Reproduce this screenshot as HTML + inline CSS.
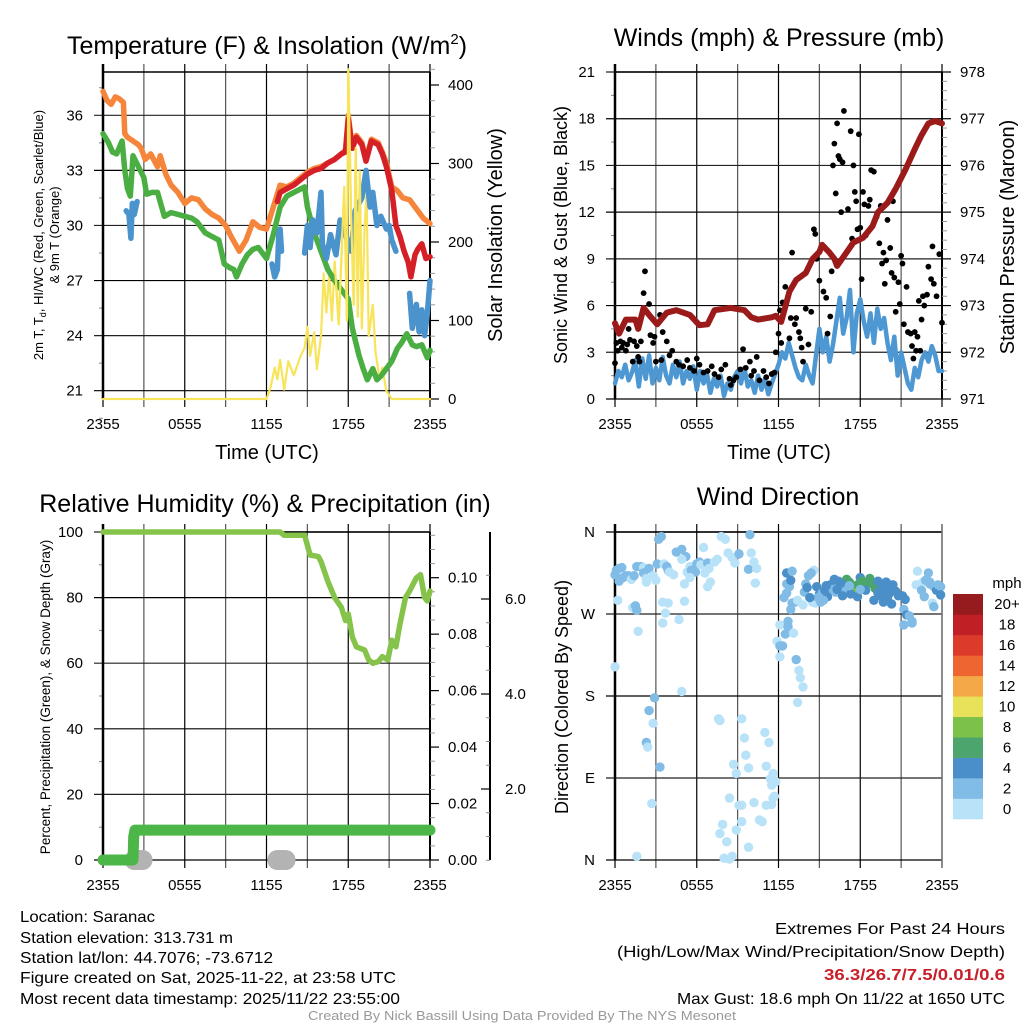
<!DOCTYPE html>
<html><head><meta charset="utf-8"><style>
html,body{margin:0;padding:0;background:#fff;}
svg{display:block;font-family:"Liberation Sans",Arial,sans-serif;}
</style></head><body>
<svg id="chart" width="1024" height="1024" viewBox="0 0 1024 1024" xmlns="http://www.w3.org/2000/svg">
<rect width="1024" height="1024" fill="#fff"/>
<g id="layer"></g>
<!-- titles -->
<text x="267" y="54" font-size="25" text-anchor="middle">Temperature (F) &amp; Insolation (W/m<tspan font-size="15" dy="-10">2</tspan><tspan dy="10">)</tspan></text>
<text x="779" y="46" font-size="25" text-anchor="middle">Winds (mph) &amp; Pressure (mb)</text>
<text x="265" y="512" font-size="25" text-anchor="middle">Relative Humidity (%) &amp; Precipitation (in)</text>
<text x="778" y="505" font-size="25" text-anchor="middle">Wind Direction</text>
<!-- axis titles -->
<text x="267" y="459" font-size="20" text-anchor="middle">Time (UTC)</text>
<text x="779" y="459" font-size="20" text-anchor="middle">Time (UTC)</text>
<text transform="translate(43,235) rotate(-90)" font-size="13" text-anchor="middle">2m T, T<tspan font-size="9" dy="3">d</tspan><tspan dy="-3">, HI/WC (Red, Green, Scarlet/Blue)</tspan></text>
<text transform="translate(59,235) rotate(-90)" font-size="13" text-anchor="middle">&amp; 9m T (Orange)</text>
<text transform="translate(502,235) rotate(-90)" font-size="20" text-anchor="middle">Solar Insolation (Yellow)</text>
<text transform="translate(567,235) rotate(-90)" font-size="18" text-anchor="middle">Sonic Wind &amp; Gust (Blue, Black)</text>
<text transform="translate(1014,237) rotate(-90)" font-size="20" text-anchor="middle">Station Pressure (Maroon)</text>
<text transform="translate(50,697) rotate(-90)" font-size="13.5" text-anchor="middle">Percent, Precipitation (Green), &amp; Snow Depth (Gray)</text>
<text transform="translate(568,697) rotate(-90)" font-size="18" text-anchor="middle">Direction (Colored By Speed)</text>
<!-- footer -->
<g font-size="16">
<text x="20" y="922" textLength="135" lengthAdjust="spacingAndGlyphs">Location: Saranac</text>
<text x="20" y="943" textLength="213" lengthAdjust="spacingAndGlyphs">Station elevation: 313.731 m</text>
<text x="20" y="963" textLength="253" lengthAdjust="spacingAndGlyphs">Station lat/lon: 44.7076; -73.6712</text>
<text x="20" y="983" textLength="376" lengthAdjust="spacingAndGlyphs">Figure created on Sat, 2025-11-22, at 23:58 UTC</text>
<text x="20" y="1004" textLength="380" lengthAdjust="spacingAndGlyphs">Most recent data timestamp: 2025/11/22 23:55:00</text>
<text x="1005" y="934" text-anchor="end" textLength="230" lengthAdjust="spacingAndGlyphs">Extremes For Past 24 Hours</text>
<text x="1005" y="957" text-anchor="end" textLength="388" lengthAdjust="spacingAndGlyphs">(High/Low/Max Wind/Precipitation/Snow Depth)</text>
<text x="1005" y="980" text-anchor="end" font-weight="bold" fill="#c8202a" textLength="181" lengthAdjust="spacingAndGlyphs">36.3/26.7/7.5/0.01/0.6</text>
<text x="1005" y="1004" text-anchor="end" textLength="328" lengthAdjust="spacingAndGlyphs">Max Gust: 18.6 mph On 11/22 at 1650 UTC</text>
<text x="522" y="1020" text-anchor="middle" font-size="12.5" fill="#999" textLength="428" lengthAdjust="spacingAndGlyphs">Created By Nick Bassill Using Data Provided By The NYS Mesonet</text>
</g>
</svg>
<script>
// ---------- DATA ----------
const timeTickLabels = ["2355","0555","1155","1755","2355"];
const tempTicks = [21,24,27,30,33,36];
const solarTicks = [0,100,200,300,400];
const windTicks = [0,3,6,9,12,15,18,21];
const pressTicks = [971,972,973,974,975,976,977,978];
const rhTicks = [0,20,40,60,80,100];
const precipTicks = ["0.00","0.02","0.04","0.06","0.08","0.10"];
const snowTicks = ["2.0","4.0","6.0"];
const dirTicks = ["N","E","S","W","N"];
const speedLabels = ["0","2","4","6","8","10","12","14","16","18","20+"];

const orangeT = [0,0.3,0.6,0.9,1.2,1.5,1.6,1.8,2.2,2.6,2.8,3.1,3.5,4,4.2,4.6,5,5.5,6,6.5,7,7.5,8,8.5,9,9.4,9.7,10,10.5,11,11.5,12,12.5,13,13.5,14,14.5,15,15.5,16,16.5,17,17.5,17.8,18,18.3,18.6,19,19.3,19.7,20.2,20.5,20.8,21.2,21.6,22,22.5,23,23.5,24];
const orangeV = [37.3,36.8,36.6,37.0,36.9,36.7,35.0,34.8,34.6,34.4,34.2,33.6,33.9,33.2,33.8,32.8,32.2,31.8,31.2,31.5,31.4,30.9,30.6,30.4,30.0,29.4,29.0,28.6,29.2,30.2,29.9,29.8,31.0,32.2,32.1,32.3,32.6,32.9,33.1,33.2,33.4,33.6,33.9,34.1,36.0,34.2,34.9,34.5,33.6,34.7,34.5,34.0,33.4,32.1,31.9,31.5,31.4,30.9,30.4,30.1];
const redT = [12.8,13,13.5,14,14.5,15,15.5,16,16.5,17,17.5,17.8,18,18.3,18.6,19,19.3,19.7,20.2,20.5,20.8,21.2,21.5,21.8,22.1,22.4,22.6,22.9,23.1,23.4,23.7,24];
const redV = [31.3,31.8,32.0,32.2,32.5,32.8,33.0,33.1,33.4,33.6,33.9,34.0,35.8,34.2,34.8,34.4,33.5,34.6,34.4,33.9,33.2,31.9,30.0,29.4,28.6,28.0,27.2,28.4,28.7,29.0,28.2,28.3];
const greenT = [0,0.4,0.7,1.0,1.4,1.6,1.8,2.0,2.2,2.6,3.0,3.2,3.6,4.0,4.5,5.0,5.5,6.0,6.5,6.9,7.5,8.0,8.5,8.9,9.3,9.6,9.8,10.2,10.6,11.0,11.4,11.7,12.0,12.5,13.0,13.5,14.0,14.8,15.0,15.5,16.0,16.5,17.0,17.5,18.0,18.3,18.8,19.1,19.4,19.8,20.1,20.4,20.8,21.2,21.6,21.9,22.3,22.7,23.0,23.4,23.8,24];
const greenV = [35.0,34.5,34.0,33.9,34.6,33.0,32.0,31.6,33.8,33.2,32.6,31.7,31.8,31.8,30.5,30.7,30.6,30.5,30.4,30.2,29.6,29.4,29.2,27.9,27.7,27.6,27.2,27.9,28.4,28.7,28.8,28.5,28.2,29.5,31.0,31.6,31.8,32.1,31.0,29.6,28.6,27.6,27.0,26.5,26.0,24.4,22.9,22.2,21.6,22.2,21.6,21.8,22.2,22.6,23.3,23.6,24.1,23.5,23.4,23.5,22.8,23.2];
const blueSegT = [[1.7,1.9,2.05,2.15,2.3,2.5],[12.4,12.6,12.8,12.9,13.0,13.1],[14.8,15.0,15.2,15.4,15.7,16.0,16.1,16.4,16.7,17.1,17.4,17.8,18.2,18.5,19.0,19.3,19.6,19.8,20.1,20.4,20.8,21.0,21.2,21.5],[22.5,22.7,23.0,23.2,23.4,23.6,23.8,24.0]];
const blueSegV = [[30.8,30.6,29.3,31.2,30.6,31.3],[27.9,27.2,27.6,29.6,29.8,28.6],[28.5,30.0,28.8,30.3,29.6,31.8,29.0,28.2,29.5,28.4,30.3,29.5,28.6,30.8,31.5,33.0,31.0,31.8,30.0,30.5,29.8,30.0,29.2,28.6],[26.3,24.4,25.7,24.2,25.4,24.0,25.2,27.0]];
const solarT = [0,12,12.3,12.6,12.8,13.0,13.3,13.6,14.0,14.5,14.8,15.0,15.2,15.5,15.7,16.0,16.2,16.4,16.6,16.8,17.0,17.3,17.5,17.7,17.9,18.0,18.2,18.4,18.55,18.7,18.85,19.0,19.2,19.35,19.5,19.8,20.0,20.3,20.5,20.8,21.2,24];
const solarV = [0,0,15,40,25,50,12,48,30,55,65,92,55,85,38,80,160,110,160,100,175,95,180,270,100,420,240,120,320,105,290,90,220,262,80,120,60,25,40,10,0,0];

const windStep = 0.25;
const windV = [1.0,1.8,1.4,2.2,1.2,1.7,2.5,0.8,2.6,1.3,2.8,1.0, 2.0,1.2,2.7,1.5,1.0,2.2,1.4,2.4,1.0,1.8,1.3,2.1, 0.6,1.8,1.0,1.6,0.4,1.3,0.8,1.5,0.2,1.0,0.6,1.4, 1.8,1.0,2.0,0.8,1.2,0.4,1.5,0.6,1.3,0.3,1.0,1.6, 2.2,3.0,2.6,3.6,2.8,2.0,1.4,1.2,2.2,1.5,1.0,2.8, 4.5,3.0,4.0,2.4,3.5,5.0,6.5,4.2,5.2,7.0,3.0,5.5, 6.4,5.0,4.0,5.5,3.6,5.8,4.5,5.2,3.6,2.5,4.0,1.5, 3.0,2.0,1.0,0.6,2.0,1.4,2.5,3.0,2.4,3.4,2.8,1.8,1.8];
const gustT = [0,0.1,0.2,0.4,0.5,0.6,0.8,0.9,1.0,1.1,1.3,1.4,1.6,1.7,1.9,1.8,2.1,2.2,2.5,2.6,2.8,2.9,3.0,3.3,3.5,3.8,3.4,4.0,4.2,4.5,4.7,5.0,5.3,5.5,5.8,6.0,6.2,6.5,6.8,7.1,7.3,7.6,7.8,8.1,8.4,8.5,8.7,8.9,9.2,9.4,9.6,9.9,10.0,10.2,10.4,10.6,10.9,11.1,11.3,11.5,11.7,11.8,12.0,12.1,12.3,12.5,12.2,12.8,12.9,13.0,13.2,13.3,13.5,13.6,13.7,13.8,14.0,14.2,14.4,14.6,14.7,14.8,15.0,15.3,15.5,15.6,15.8,15.9,16.0,16.1,16.2,16.3,16.4,16.5,16.6,16.8,16.7,17.1,17.3,17.4,17.5,17.6,17.7,17.9,17.8,18.0,18.1,18.2,18.4,18.3,18.6,18.7,18.8,19.0,19.2,19.4,19.5,19.6,19.7,19.8,19.9,20.0,20.2,20.3,20.4,20.5,20.6,20.8,20.9,21.0,21.1,21.2,21.4,21.5,21.7,21.8,22.0,22.1,22.3,22.5,22.6,22.7,22.9,23.0,23.2,23.3,23.4,23.6,23.8,24.0,22.2,21.9,22.4];
const gustV = [2.3,3.6,3.1,3.7,3.3,3.6,3.1,3.5,4.5,3.8,2.4,3.7,3.4,2.7,3.7,2.4,6.8,8.2,6.1,4.1,3.6,4.0,2.4,5.4,4.3,3.7,2.5,2.8,3.1,2.4,2.2,2.1,2.5,2.0,1.8,2.6,2.2,1.7,1.8,2.1,1.6,1.4,1.9,2.2,1.3,0.9,1.2,1.4,1.9,3.2,2.0,2.4,1.5,1.8,2.7,1.2,1.8,1.4,1.0,1.6,1.7,3.0,4.2,5.7,6.2,7.2,3.6,3.9,5.2,9.4,4.8,5.2,4.3,3.9,3.3,2.4,5.8,3.5,5.6,10.9,10.6,9.0,7.6,6.9,6.5,4.2,5.3,8.2,15.0,16.4,13.2,17.7,15.6,15.4,12.0,18.5,15.2,12.2,17.2,10.3,15.0,13.3,12.7,17.0,10.9,11.0,7.7,13.3,10.5,12.5,12.4,12.8,14.7,14.6,11.7,10.0,12.4,8.7,9.4,7.4,8.9,11.5,9.7,8.1,12.7,7.8,5.6,7.5,6.1,9.2,8.7,4.8,7.2,4.3,4.2,3.4,4.3,3.1,6.3,5.1,6.6,6.0,6.7,8.5,7.7,9.8,7.4,6.6,9.3,4.9,4.0,2.6,3.1];
const pressT = [0,0.3,0.8,1.5,1.7,2.1,2.5,3.1,3.8,4.5,5.5,6.2,6.8,7.3,8.5,9.5,10,10.5,11.5,11.8,12.2,12.8,13.3,14,14.5,15,15.2,15.7,16.1,16.3,16.9,17.5,18.2,18.9,19.3,20,20.6,21.3,22,22.5,23,23.5,24];
const pressV = [972.62,972.4,972.7,972.7,972.5,972.95,972.8,972.6,972.85,972.9,972.8,972.58,972.6,972.9,972.95,972.9,972.75,972.7,972.75,972.78,972.65,973.3,973.55,973.7,974.0,974.15,974.3,974.15,974.0,973.85,974.1,974.35,974.45,974.7,975.0,975.2,975.5,975.9,976.35,976.65,976.9,976.95,976.9];

const rhT = [0,13,13.3,14.8,15.2,15.8,16.0,16.5,17.0,17.5,17.8,18.0,18.3,18.6,19.2,19.5,19.8,20.2,20.5,20.9,21.2,21.5,21.8,22.2,22.5,23.0,23.3,23.6,23.8,24];
const rhV = [100,100,99,99,93,92.5,91,85,80,77,73,75,68,65,64,61,60,60.5,62,61,67,65,72,80,82,86,87,80,79,82];
const precipT = [0,2.2,2.25,2.35,24];
const precipV = [0,0,0.0083,0.0106,0.0106];
const snowT = [2.3,2.5,2.7,2.9,12.8,13.0,13.2,13.4];
const snowV = [0,0,0,0,0,0,0,0];

const dirT = [0.0,0.1,0.3,0.5,0.3,0.6,0.8,1.0,1.2,1.4,1.6,1.9,2.1,2.1,2.3,2.5,0.2,1.3,1.5,1.6,1.7,0,2.3,2.8,3.0,3.1,3.2,3.4,3.6,3.8,3.9,4.0,4.3,4.5,4.9,5.2,4.9,5.1,5.3,5.5,5.6,5.9,5.5,6.0,6.2,6.3,6.5,6.6,6.8,6.9,7.0,6.8,7.3,7.5,7.8,8.1,8.3,8.6,8.8,9.1,9.9,9.8,10.0,10.2,10.4,10.3,3.5,3.7,3.9,4.7,5.1,4.9,3.5,2.9,2.5,2.8,2.3,2.4,3.3,2.7,1.6,7.6,7.7,9.3,9.5,9.6,8.7,8.9,9.8,8.4,9.1,9.3,10.2,9.3,8.9,7.9,7.7,8.2,9.8,8.0,8.4,8.6,10.6,10.8,11.0,11.3,11.1,11.5,11.6,11.4,11.8,11.6,11.5,11.1,11.7,12.1,11.9,12.1,12.3,12.1,12.5,12.7,12.7,13.1,13.3,13.5,13.6,13.8,13.4,12.9,13.0,13.2,12.6,12.4,12.6,12.8,12.6,13.4,13.9,13.8,14.7,14.0,14.2,14.6,14.4,14.8,15.0,15.2,15.4,15.6,15.8,16.0,16.2,16.4,16.6,16.8,17.0,17.2,17.4,17.6,17.8,18.0,18.1,18.3,18.5,18.7,18.9,19.1,19.3,19.5,19.7,19.9,20.2,20.4,20.6,20.8,16.7,17.3,17.8,18.4,19.0,19.5,20.1,21.1,21.3,21.2,21.4,21.6,21.8,21.2,21.8,22.1,22.6,22.8,23.0,22.5,22.7,23.1,23.4,23.6,23.7,23.9,23.9,23.3,23.4,23.1,22.2,14.5,14.9,15.1,15.3,15.5,16.1,16.3,16.6,17.2,18.0,19.3,19.7,20.0,20.3,14.1,14.3,12.9,13.0];
const dirV = [313,318,320,321,306,310,312,312,308,312,322,322,321,315,305,320,285,277,279,274,251,212,309,312,307,325,352,355,325,322,318,316,313,338,341,333,330,303,316,322,318,316,310,325,327,324,343,315,326,320,305,300,327,330,355,352,337,332,326,336,357,319,337,327,320,304,283,271,282,264,284,185,260,178,164,150,129,124,102,62,4,155,153,155,134,115,105,95,101,68,60,60,63,42,33,39,29,20,14,2,1,4,44,42,140,129,103,82,95,89,86,68,61,60,70,258,240,235,235,223,248,262,256,249,220,208,200,190,173,275,282,283,293,288,303,300,315,285,294,280,282,303,312,318,315,300,292,293,296,289,302,297,294,306,300,296,308,305,300,298,302,310,306,301,304,309,303,298,306,296,300,305,296,302,295,290,290,292,289,296,285,290,292,290,286,275,269,268,262,258,260,302,305,307,315,296,289,305,300,296,302,300,291,282,278,303,317,283,288,283,285,301,308,297,304,301,297,293,283,288,281,299,288,307,317];
const dirSpd = [1,1,1,1,1,1,1,1,0,1,1,1,0,1,0,1,0,0,1,1,0,0,0,0,0,1,1,1,0,1,1,0,0,1,1,1,0,0,0,0,1,1,0,1,1,0,0,0,1,0,0,0,0,0,0,0,0,0,0,1,1,1,0,0,0,0,0,0,0,0,0,0,0,1,1,0,1,0,1,0,0,0,0,0,0,0,0,0,0,0,0,0,0,0,0,0,0,0,0,0,0,0,0,0,0,0,0,0,0,0,0,0,0,0,0,0,0,1,1,0,1,1,1,0,1,0,0,0,0,1,1,1,1,1,1,1,2,0,1,0,0,1,1,0,1,2,2,1,2,2,2,1,1,2,1,1,3,3,3,4,3,2,3,3,3,3,3,3,2,2,2,2,2,2,2,2,2,2,2,2,2,2,2,2,2,1,2,1,1,1,1,0,0,1,1,1,1,1,1,2,1,1,2,0,1,1,0,0,1,1,1,2,2,2,2,1,1,2,2,2,2,2,2,2,1,1];
const speedColors = ["#b8e2f8","#80bce6","#4a8fc8","#4ba56d","#7cc24a","#e8e15a","#f5a847","#ef6530","#dc3a2b","#c01f26","#951b1e"];

// ---------- DRAWING ----------
const NS = "http://www.w3.org/2000/svg";
const layer = document.getElementById('layer');
function mk(tag, attrs, parent){ const e=document.createElementNS(NS,tag); for(const k in attrs) e.setAttribute(k,attrs[k]); (parent||layer).appendChild(e); return e; }
function lin(d0,d1,r0,r1){ return v => r0 + (v-d0)/(d1-d0)*(r1-r0); }

const P = [ {x0:103,x1:430,y0:72,y1:399}, {x0:615,x1:942,y0:72,y1:399}, {x0:103,x1:430,y0:532,y1:860}, {x0:615,x1:942,y0:532,y1:860} ];

function frame(p, name, yTickPos, yLabels, yMinor){
  const g = mk('g',{});
  
  
  const xs = lin(0,24,p.x0,p.x1);
  for(let h=0; h<=24; h+=3){
    const x = xs(h);
    const l = mk('line',{x1:x,x2:x,y1:p.y0-8,y2:p.y1+8,stroke:(h%6==0?'#000':'#555'),'stroke-width':1.2},g);
    
    
  }
  timeTickLabels.forEach((s,i)=>{
    const t = mk('text',{x:xs(i*6),y:p.y1+30,'font-size':15,'text-anchor':'middle'},g);
    t.textContent = s;
    
    
  });
  yMinor.forEach(y=>{ mk('line',{x1:p.x0-4,x2:p.x0,y1:y,y2:y,stroke:'#888','stroke-width':1},g); });
  yTickPos.forEach((y,i)=>{
    const l = mk('line',{x1:p.x0-9,x2:p.x1,y1:y,y2:y,stroke:(i%2? '#222':'#000'),'stroke-width':1.2},g);
    
    
    const t = mk('text',{x:p.x0-20,y:y+5,'font-size':15,'text-anchor':'end'},g);
    t.textContent = yLabels[i];
    
    
  });
  mk('line',{x1:p.x0,x2:p.x0,y1:p.y0-8,y2:p.y1,stroke:'#000','stroke-width':2.5},g);
  mk('line',{x1:p.x0,x2:p.x1,y1:p.y0,y2:p.y0,stroke:'#000','stroke-width':1.5},g);
  return xs;
}
function rightAxis(x, y0, y1, ticks, labels, minor, name, labOff){
  const g = mk('g',{});
  
  
  mk('line',{x1:x,x2:x,y1:y0,y2:y1,stroke:'#000','stroke-width':2},g);
  minor.forEach(y=>mk('line',{x1:x,x2:x+5,y1:y,y2:y,stroke:'#999','stroke-width':1},g));
  ticks.forEach((y,i)=>{
    mk('line',{x1:x,x2:x+9,y1:y,y2:y,stroke:'#000','stroke-width':1.2},g);
    const t = mk('text',{x:x+(labOff||18),y:y+5,'font-size':15},g);
    t.textContent = labels[i];
  });
}
function pathFrom(T,V,xs,ys){ return T.map((t,i)=>(i?'L':'M')+xs(t).toFixed(1)+','+ys(V[i]).toFixed(1)).join(''); }
function line(T,V,xs,ys,color,w,name,g){
  const e = mk('path',{d:pathFrom(T,V,xs,ys),fill:'none',stroke:color,'stroke-width':w,'stroke-linejoin':'round','stroke-linecap':'round'},g);
  
  
  return e;
}

// Panel 1: temperature
{
  const p=P[0];
  const ys = lin(21,36,390.7,115.3);
  const ss = lin(0,400,399,85);
  const minor=[]; for(let v=19.5; v<=37.5; v+=1.5) if(v%3) minor.push(ys(v));
  const xs = frame(p,'temperature',tempTicks.map(ys),tempTicks,minor);
  const sm=[]; for(let v=20; v<=420; v+=20) if(v%100) sm.push(ss(v));
  rightAxis(p.x1,p.y0,p.y1,solarTicks.map(ss),solarTicks,sm,'solar-axis');
  const g = mk('g',{});  
  line(solarT,solarV,xs,ss,'#f7e45a',2.2,'solar-line',g);
  line(orangeT,orangeV,xs,ys,'#f5853a',5.5,'temp-9m-line',g);
  line(greenT,greenV,xs,ys,'#4aae43',5.5,'dewpoint-line',g);
  line(redT,redV,xs,ys,'#d62027',5.5,'temp-2m-line',g);
  blueSegT.forEach((T,i)=>line(T,blueSegV[i],xs,ys,'#4b93cc',5.5,'windchill-line',g));
  line(solarT.slice(20,32),solarV.slice(20,32),xs,ss,'#f7e45a',2.2,'solar-peak-line',g);
}
// Panel 2: winds
{
  const p=P[1];
  const ys = lin(0,21,399,72);
  const ps = lin(971,978,399,72);
  const minor=[]; for(let v=1.5; v<21; v+=3) minor.push(ys(v));
  const xs = frame(p,'winds',windTicks.map(ys),windTicks,minor);
  const pm=[]; for(let v=971.2; v<978; v+=0.2) if(Math.abs(v-Math.round(v))>0.05) pm.push(ps(v));
  rightAxis(p.x1,p.y0,p.y1,pressTicks.map(ps),pressTicks,pm,'pressure-axis');
  const g = mk('g',{});  
  const wT = windV.map((v,i)=>i*windStep);
  line(wT,windV,xs,ys,'#4d97d2',4.5,'sonic-wind-line',g);
  gustT.forEach((t,i)=>{
    const c = mk('circle',{cx:xs(t),cy:ys(gustV[i]),r:2.9,fill:'#000'},g);
    
    
  });
  line(pressT,pressV,xs,ps,'#9b1b1b',6,'pressure-line',g);
}
// Panel 3: humidity
{
  const p=P[2];
  const ys = lin(0,100,860,532);
  const pr = lin(0,0.1,860,577.7);
  const sn = lin(2,6,789,599);
  const minor=[]; for(let v=10; v<100; v+=20) minor.push(ys(v));
  const xs = frame(p,'humidity',rhTicks.map(ys),rhTicks,minor);
  const pm=[]; for(let v=0.005; v<0.116; v+=0.005) if(Math.round(v*1000)%20) pm.push(pr(v));
  rightAxis(p.x1,p.y0,p.y1,precipTicks.map(v=>pr(+v)),precipTicks,pm,'precip-axis');
  const sm=[]; for(let v=0.5; v<6.9; v+=0.5) if(v%2) sm.push(sn(v));
  const g2 = mk('g',{});  
  mk('line',{x1:490,x2:490,y1:p.y0,y2:p.y1,stroke:'#000','stroke-width':2},g2);
  sm.forEach(y=>mk('line',{x1:486,x2:490,y1:y,y2:y,stroke:'#888'},g2));
  snowTicks.forEach(s=>{ const y=sn(+s); mk('line',{x1:481,x2:490,y1:y,y2:y,stroke:'#000','stroke-width':1.2},g2);
    const t=mk('text',{x:505,y:y+5,'font-size':15},g2); t.textContent=s; });
  const g = mk('g',{});  
  snowT.forEach((t,i)=>{ const c=mk('circle',{cx:xs(t),cy:ys(snowV[i]),r:10,fill:'#b3b3b3'},g);
    
     });
  line(rhT,rhV,xs,ys,'#86c34a',5.5,'rh-line',g);
  line(precipT,precipV,xs,pr,'#4cb648',11,'precip-line',g);
}
// Panel 4: direction
{
  const p=P[3];
  const ds = lin(0,360,860,532);
  const xs = frame(p,'direction',[0,90,180,270,360].map(ds),dirTicks,[]);
  mk('line',{x1:p.x1,x2:p.x1,y1:p.y0-8,y2:p.y1+8,stroke:'#777','stroke-width':1.5});
  const g = mk('g',{});  
  dirT.forEach((t,i)=>{
    const c = mk('circle',{cx:xs(t),cy:ds(dirV[i]),r:4.7,fill:speedColors[dirSpd[i]]},g);
    
    
  });
  const cb = mk('g',{});  
  const bh = (819-594)/11;
  speedColors.forEach((c,i)=>{
    const r = mk('rect',{x:953,y:819-(i+1)*bh,width:30,height:bh+0.3,fill:c},cb);
    
    
    const t = mk('text',{x:1007,y:819-(i+0.5)*bh+5,'font-size':15,'text-anchor':'middle'},cb);
    t.textContent = speedLabels[i];
  });
  const m = mk('text',{x:1007,y:588,'font-size':15,'text-anchor':'middle'},cb); m.textContent='mph';
}
</script>
</body></html>
